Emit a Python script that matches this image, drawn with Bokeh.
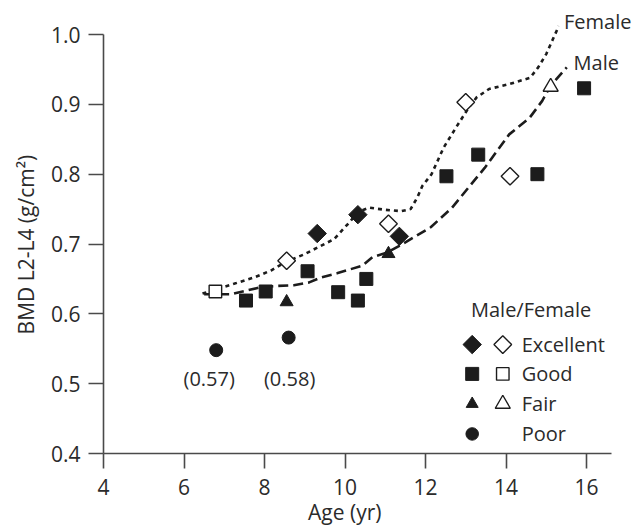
import numpy as np
from bokeh.plotting import figure
from bokeh.models import Range1d, FixedTicker
from bokeh.core.properties import value
from bokeh.embed import file_html
from bokeh.resources import INLINE

# ---- data ----
exc_m_x = [9.31, 10.32, 11.35]
exc_m_y = [0.715, 0.742, 0.711]
exc_f_x = [8.55, 11.08, 13.00, 14.10]
exc_f_y = [0.676, 0.729, 0.903, 0.797]
good_m_x = [7.54, 8.03, 9.07, 9.83, 10.32, 10.53, 12.52, 13.31, 14.78, 15.94]
good_m_y = [0.619, 0.632, 0.661, 0.631, 0.619, 0.650, 0.797, 0.828, 0.800, 0.923]
good_f_x = [6.78]
good_f_y = [0.632]
fair_m_x = [8.55, 11.08]
fair_m_y = [0.617, 0.686]
fair_f_x = [15.11]
fair_f_y = [0.925]
poor_m_x = [6.80, 8.60]
poor_m_y = [0.548, 0.566]
poor_labels = ["(0.57)", "(0.58)"]

female_x = [6.46, 7.24, 7.74, 8.16, 8.55, 8.98, 9.73, 10.14, 10.32, 10.60, 11.00, 11.39, 11.63,
            11.80, 11.92, 12.15, 12.45, 12.76, 13.07, 13.27, 13.58, 14.08, 14.60, 14.80, 15.00, 15.31]
female_y = [0.629, 0.643, 0.652, 0.662, 0.675, 0.685, 0.707, 0.733, 0.746, 0.752, 0.749, 0.747, 0.750,
            0.767, 0.783, 0.800, 0.838, 0.867, 0.895, 0.910, 0.922, 0.929, 0.938, 0.953, 0.972, 1.012]
male_x = [6.50, 7.16, 7.90, 8.32, 8.73, 9.11, 9.40, 9.80, 10.43, 10.68, 11.05, 11.40, 12.13, 12.66,
          13.07, 13.47, 14.08, 14.59, 14.90, 15.10, 15.51]
male_y = [0.628, 0.628, 0.638, 0.640, 0.641, 0.645, 0.652, 0.658, 0.669, 0.681, 0.688, 0.699, 0.724,
          0.752, 0.781, 0.809, 0.857, 0.881, 0.905, 0.926, 0.953]

x_ticks = [4, 6, 8, 10, 12, 14, 16]
y_ticks = [0.4, 0.5, 0.6, 0.7, 0.8, 0.9, 1.0]
y_tick_labels = ["0.4", "0.5", "0.6", "0.7", "0.8", "0.9", "1.0"]
x_title = "Age (yr)"
y_title = "BMD L2-L4 (g/cm²)"
legend_title = "Male/Female"
legend_labels = ["Excellent", "Good", "Fair", "Poor"]
curve_names = ["Female", "Male"]

# ---- style ----
FONT = "Open Sans"
TXT = "#2b2b2b"
INK = "#1c1c1c"
AX = "#4a4a4a"
FS = "20px"
FS_AX = "21px"
NBSP = "\u00a0"

p = figure(width=640, height=530, output_backend="svg", toolbar_location=None,
           x_range=Range1d(4, 4 + 537 / 40.25), y_range=Range1d(0.4, 0.4 + 445 / 698.3),
           min_border_left=103, min_border_right=0, min_border_top=8, min_border_bottom=77)
p.outline_line_color = None
p.grid.visible = False
p.background_fill_color = "white"

for ax in (p.xaxis[0], p.yaxis[0]):
    ax.axis_line_color = AX
    ax.axis_line_width = 1.6
    ax.major_tick_line_color = AX
    ax.major_tick_line_width = 1.6
    ax.major_tick_out = 15
    ax.major_tick_in = 0
    ax.minor_tick_line_color = None
    ax.major_label_text_font = FONT
    ax.major_label_text_font_size = FS_AX
    ax.major_label_text_color = TXT
    ax.axis_label_text_font = FONT
    ax.axis_label_text_font_size = FS_AX
    ax.axis_label_text_color = TXT
    ax.axis_label_text_font_style = "normal"

p.xaxis.ticker = FixedTicker(ticks=x_ticks)
p.yaxis.ticker = FixedTicker(ticks=y_ticks)
p.yaxis.major_label_overrides = {t: l for t, l in zip(y_ticks, y_tick_labels)}
p.xaxis.bounds = (4, 16.63)
p.yaxis.bounds = (0.4, 1.0)
p.xaxis.major_label_standoff = 10
p.yaxis.major_label_standoff = 8
# axis titles (trailing no-break spaces shift the centred title to where the reference has it)
p.xaxis.axis_label = x_title + NBSP * 10
p.yaxis.axis_label = y_title + NBSP * 5
p.xaxis.axis_label_standoff = 0
p.yaxis.axis_label_standoff = 8

# curves
p.line(female_x, female_y, line_color=INK, line_width=2.6, line_dash="4 4")
p.line(male_x, male_y, line_color=INK, line_width=2.6, line_dash="10 5")

# markers
DIA = np.pi / 4
p.scatter(exc_m_x, exc_m_y, marker="square", angle=DIA, size=13, fill_color=INK, line_color=INK)
p.scatter(exc_f_x, exc_f_y, marker="square", angle=DIA, size=12.5, fill_color="white", line_color=INK, line_width=1.4)
p.scatter(good_m_x, good_m_y, marker="square", size=13, fill_color=INK, line_color=INK)
p.scatter(good_f_x, good_f_y, marker="square", size=12.5, fill_color="white", line_color=INK, line_width=1.4)
p.scatter(fair_m_x, fair_m_y, marker="triangle", size=13, fill_color=INK, line_color=INK)
p.scatter(fair_f_x, fair_f_y, marker="triangle", size=15, fill_color="white", line_color=INK, line_width=1.4)
p.scatter(poor_m_x, poor_m_y, marker="circle", size=13, fill_color=INK, line_color=INK)

# value labels below the poor points
p.text([poor_m_x[0], poor_m_x[1]], [0.508, 0.508], text=poor_labels, x_offset=[-7, 1],
       text_font=value(FONT), text_font_size=FS, text_color=TXT,
       text_align="center", text_baseline="middle")

# curve names
p.text([15.44, 15.68], [1.019, 0.960], text=curve_names,
       text_font=value(FONT), text_font_size=FS, text_color=TXT,
       text_align="left", text_baseline="middle")

# legend (drawn by hand)
p.text([13.13], [0.606], text=[legend_title], text_font=value(FONT), text_font_size=FS,
       text_color=TXT, text_align="left", text_baseline="middle")
rows = [0.556, 0.514, 0.471, 0.428]
p.scatter([13.16], [rows[0]], marker="square", angle=DIA, size=13, fill_color=INK, line_color=INK)
p.scatter([13.92], [rows[0]], marker="square", angle=DIA, size=12.5, fill_color="white", line_color=INK, line_width=1.4)
p.scatter([13.16], [rows[1]], marker="square", size=13, fill_color=INK, line_color=INK)
p.scatter([13.92], [rows[1]], marker="square", size=12.5, fill_color="white", line_color=INK, line_width=1.4)
p.scatter([13.16], [rows[2]], marker="triangle", size=12, fill_color=INK, line_color=INK)
p.scatter([13.92], [rows[2]], marker="triangle", size=15, fill_color="white", line_color=INK, line_width=1.4)
p.scatter([13.16], [rows[3]], marker="circle", size=12.5, fill_color=INK, line_color=INK)
p.text([14.39] * 4, rows, text=legend_labels, text_font=value(FONT), text_font_size=FS,
       text_color=TXT, text_align="left", text_baseline="middle")

open("out.html", "w").write(file_html(p, INLINE))
